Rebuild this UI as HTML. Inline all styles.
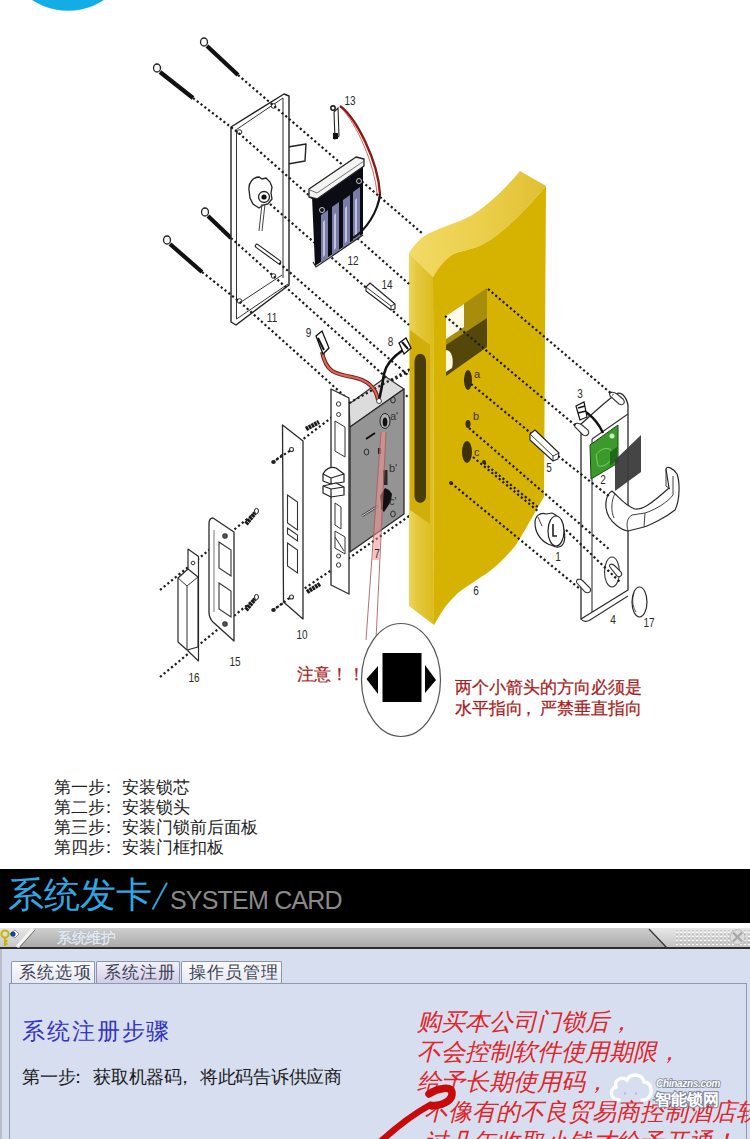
<!DOCTYPE html>
<html><head><meta charset="utf-8">
<style>
html,body{margin:0;padding:0;background:#fff;}
body{width:750px;height:1139px;position:relative;overflow:hidden;font-family:"Liberation Sans",sans-serif;}
#diag{position:absolute;left:0;top:0;}
.steps{position:absolute;left:54px;top:777.5px;font-size:17px;line-height:20.3px;color:#222;white-space:nowrap;}
.rnote{position:absolute;color:#a81c1c;-webkit-text-stroke:0.25px #a81c1c;font-size:16.5px;line-height:20.5px;white-space:nowrap;}
.banner{position:absolute;left:0;top:869px;width:750px;height:54px;background:#000;}
.banner .cn{position:absolute;left:8px;top:6px;font-size:36px;line-height:40px;color:#2ea8e4;white-space:nowrap;}
.banner .en{position:absolute;left:170px;top:16px;font-size:25px;line-height:30px;color:#8a8a8a;white-space:nowrap;letter-spacing:-0.8px;}
.win{position:absolute;left:0;top:927px;width:750px;height:212px;background:linear-gradient(#fff 0,#fff 1px,#d6def0 1px);}
.title{position:absolute;left:0;top:1px;width:750px;height:19px;background:linear-gradient(#cfcfcf,#bdbdbd 50%,#aaaaaa);border-bottom:2px solid #2e2e2e;}
.tl{position:absolute;left:0;top:0;width:36px;height:19px;background:linear-gradient(#e6e6e6,#c8c8c8);clip-path:polygon(0 0,34px 0,17px 19px,0 19px);}
.tr{position:absolute;left:648px;top:0;width:102px;height:19px;background:linear-gradient(#e8e8e8,#c4c4c4);clip-path:polygon(0 0,102px 0,102px 19px,19px 19px);}
.ticons{position:absolute;left:0;top:0;}
.ttext{position:absolute;left:57px;top:1px;font-size:15px;line-height:18px;font-weight:bold;color:#dfe6f2;text-shadow:0 0 1px #999;white-space:nowrap;letter-spacing:-0.5px;}
.lborder{position:absolute;left:0;top:22px;width:2px;height:190px;background:#b8bccb;}
.panel{position:absolute;left:9px;top:56px;width:736px;height:200px;border:1px solid #8d9ab2;border-width:1.5px 1px 0 1.5px;background:#d6def0;}
.tab{position:absolute;top:34px;height:21.5px;border:1px solid #8a96ac;border-bottom:none;border-radius:2px 2px 0 0;background:linear-gradient(#fbfbfd,#e6e8f2);font-size:17px;line-height:21px;color:#3c4454;text-align:center;white-space:nowrap;box-sizing:border-box;letter-spacing:1.2px;text-indent:5px;}
.tab.act{background:linear-gradient(#f3f0fa,#d2cbe8);}
.h1{position:absolute;left:22px;top:90px;font-size:23px;line-height:28px;color:#3535c0;white-space:nowrap;letter-spacing:1.9px;}
.p1{position:absolute;left:22px;top:138.5px;font-size:18px;line-height:22px;color:#1a1a1a;white-space:nowrap;letter-spacing:-0.22px;}
.red{position:absolute;left:417px;top:79.5px;font-size:24px;line-height:30px;color:#e0252a;font-style:italic;white-space:nowrap;}
</style></head>
<body>
<svg id="diag" width="750" height="770" viewBox="0 0 750 770">
  <circle cx="68" cy="-55.2" r="65.9" fill="#12ace6"/>
  <!-- ========== DOTTED LINES (behind door) ========== -->
  <g stroke="#1c1c1c" stroke-width="2.2" stroke-dasharray="2.2 2.6" fill="none">
    <!-- up-right strike lines -->
    <path d="M160,590 L257,511"/>
    <path d="M160,677 L257,597"/>
    <path d="M273,462 L352,402 L412,370"/>
    <path d="M273,610 L352,556 L412,514"/>
  </g>
  <!-- ========== DOOR ========== -->
  <defs>
    <linearGradient id="gTop" x1="0" y1="0" x2="1" y2="0">
      <stop offset="0" stop-color="#f2da66"/><stop offset="0.5" stop-color="#eccf4c"/><stop offset="1" stop-color="#e0c032"/>
    </linearGradient>
    <linearGradient id="gSide" x1="0" y1="0" x2="1" y2="0">
      <stop offset="0" stop-color="#eed45c"/><stop offset="0.3" stop-color="#e6c840"/><stop offset="1" stop-color="#dcbc1c"/>
    </linearGradient>
  </defs>
  <path d="M409,253 C416,242 424,235 432,232 C440,228 450,225 460,221 C478,214 500,195 520,171 L546,186 C512,226 490,243 474,248 C468,250 462,251 456,253 C448,256 440,265 433,277 Z" fill="url(#gTop)"/>
  <path d="M433,277 C440,265 448,256 456,253 C462,251 468,250 474,248 C490,243 512,226 546,186 L544,497 C530,520 520,540 515,546 C500,565 485,575 481,577 C470,585 460,590 455,596 C445,605 440,615 434,625 Z" fill="#d6b300"/>
  <path d="M409,253 L433,277 L434,625 L409,606 Z" fill="url(#gSide)"/>
  <!-- side mortise -->
  <path d="M410,330 L430,345 L430,524 L410,510 Z" fill="#d2ae0a"/>
  <path d="M414.5,362 C414.5,351 426,351 426,362 L426,496 C426,505 414.5,505 414.5,496 Z" fill="#4a3c08"/>
  <!-- window -->
  <path d="M446,316 L487,288 L487,347 L446,376 Z" fill="#a88c0c"/>
  <path d="M446,316 L464,304 L464,327 L446,339 Z" fill="#fffbe8"/>
  <path d="M446,345 L487,318 L487,347 L446,376 Z" fill="#55470a"/>
  <path d="M446,350 C452,350 454,360 452,368 L446,372 Z" fill="#fff8e0"/>
  <!-- holes -->
  <ellipse cx="468" cy="380" rx="4" ry="10" fill="#3d310a"/>
  <ellipse cx="468" cy="424" rx="2.5" ry="4" fill="#3d310a"/>
  <ellipse cx="467" cy="452" rx="5" ry="11" fill="#3d310a"/>
  <circle cx="451" cy="483" r="2" fill="#3d310a"/>
  <circle cx="484" cy="462" r="2" fill="#3d310a"/>
  <g font-family="Liberation Sans" font-size="11" fill="#3a2e08">
    <text x="474" y="378">a</text><text x="473" y="420">b</text><text x="474" y="456">c</text>
  </g>
  <!-- ========== SCREWS ========== -->
  <g stroke="#111" stroke-width="4.2" stroke-linecap="butt">
    <path d="M207,46 L238,75"/>
    <path d="M160,72 L193,98"/>
    <path d="M208,216 L231,238"/>
    <path d="M170,244 L202,272"/>
  </g>
  <g fill="#fff" stroke="#222" stroke-width="1.3">
    <ellipse cx="204" cy="42" rx="3.5" ry="4"/>
    <ellipse cx="157" cy="68" rx="3.5" ry="4"/>
    <ellipse cx="205" cy="212" rx="3.5" ry="4"/>
    <ellipse cx="167" cy="240" rx="3.5" ry="4"/>
  </g>
  <!-- ========== BACK PLATE 11 ========== -->
  <g fill="#fff" stroke="#222" stroke-width="1.4" stroke-linejoin="round">
    <path d="M288,147 L306,144 L305,161 L288,164 Z"/>
    <path d="M231,127 L284,94 L289,96 L289,285 L236,325 L231,322 Z"/>
  </g>
  <g fill="none" stroke="#333" stroke-width="1">
    <path d="M236.5,319 L236.5,129.5 L283,98 L283,278"/>
    <path d="M241,302 L282,275"/>
    <path d="M236.5,319 L288,284"/>
  </g>
  <g fill="#fff" stroke="#333" stroke-width="1">
    <circle cx="239.5" cy="132" r="2.3"/><circle cx="273.5" cy="106" r="2.3"/>
    <circle cx="273.5" cy="276" r="2.3"/><circle cx="239.5" cy="301" r="2.3"/>
  </g>
  <g stroke="#222" fill="#fff" stroke-width="1.3">
    <path d="M249,190 C248,182 254,177 259,177 L262,179 L266,178 L270,182 L272,187 L271,193 L272,199 L268,204 L263,205 L259,208 L253,204 L250,198 Z"/>
    <circle cx="264" cy="197" r="5.5"/>
  </g>
  <circle cx="264" cy="197" r="2.6" fill="#111"/>
  <path d="M262,204 L259,231 M265,204 L262,231" stroke="#444" stroke-width="1" fill="none"/>
  <path d="M257,246 L279,262" stroke="#222" stroke-width="4.5" stroke-linecap="round"/>
  <path d="M257,246 L279,262" stroke="#fff" stroke-width="2.2" stroke-linecap="round"/>
  <!-- lines over plate -->
  <g stroke="#1c1c1c" stroke-width="2.2" stroke-dasharray="2.2 2.6" fill="none">
    <path d="M238,75 L423,234"/>
    <path d="M193,98 L238.7,133 L409,284"/>
    <path d="M270,204 L409,325"/>
    <path d="M279,263 L409,376"/>
    <path d="M231,238 L273.4,276 L409,398"/>
    <path d="M202,272 L238.7,301 L350,401"/>
  </g>
  <!-- ========== BATTERY 12 ========== -->
  <path d="M312,196 L363,163 L363,234 L315,266 Z" fill="#0c0c14"/>
  <g fill="#7a7ca8">
    <path d="M321,215 L328,210 L328,258 L321,263 Z"/>
    <path d="M332,207 L339,202 L339,251 L332,256 Z"/>
    <path d="M343,200 L350,195 L350,244 L343,249 Z"/>
    <path d="M353,192 L360,187 L360,237 L353,242 Z"/>
  </g>
  <g fill="#d8daf0" opacity="0.75">
    <path d="M323,222 L325,220 L325,255 L323,257 Z"/>
    <path d="M334,215 L336,213 L336,248 L334,250 Z"/>
    <path d="M345,208 L347,206 L347,241 L345,243 Z"/>
    <path d="M355,200 L357,198 L357,234 L355,236 Z"/>
  </g>
  <path d="M313,262 L316,267 L363,235" stroke="#222" stroke-width="1.2" fill="none"/>
  <path d="M309,189 L356,157 L364,159 L364,166 L317,199 L309,197 Z" fill="#f4f4f4" stroke="#222" stroke-width="1.3" stroke-linejoin="round"/>
  <path d="M310,190 L317,193 L364,161" stroke="#555" stroke-width="0.8" fill="none"/>
  <circle cx="359" cy="181" r="2.5" fill="none" stroke="#ccc" stroke-width="1"/>
  <circle cx="322" cy="210" r="2.5" fill="none" stroke="#ccc" stroke-width="1"/>
  <!-- wire 13 -->
  <path d="M340,106 C356,118 378,160 380,194" stroke="#8a1a14" stroke-width="2.4" fill="none"/>
  <path d="M341,108 C356,122 375,165 377,194" stroke="#e04848" stroke-width="0.9" fill="none"/>
  <path d="M380,194 C378,212 366,230 353,238" stroke="#151515" stroke-width="2.2" fill="none"/>
  <path d="M334,112 L338,108 L339,136 L335,139 Z" fill="#fff" stroke="#222" stroke-width="1.1"/>
  <rect x="333" y="133" width="5" height="6" fill="#111"/>
  <circle cx="333" cy="108" r="2.2" fill="none" stroke="#111" stroke-width="1.4"/>
  <!-- pin 14 -->
  <path d="M366,287 L370,283 L395,304 L395,309 L391,310 L366,291 Z" fill="#fff" stroke="#222" stroke-width="1.1" stroke-linejoin="round"/>
  <path d="M366,287 L391,306 L391,310 M391,306 L395,304" stroke="#222" stroke-width="0.9" fill="none"/>
  <!-- ========== STRIKE PLATE 10 ========== -->
  <path d="M282.5,425 L303,441 L303,619 L283.5,602 Z" fill="#fff" stroke="#2a2a2a" stroke-width="1.3" stroke-linejoin="round"/>
  <g fill="#fff" stroke="#333" stroke-width="1.1">
    <path d="M287.5,495 L297.5,502 L297.5,530 L287.5,523 Z"/>
    <path d="M287.5,528 L297.5,535 L297.5,541 L287.5,534 Z"/>
    <path d="M287.5,543 L297.5,550 L297.5,573 L287.5,566 Z"/>
    <circle cx="291.5" cy="449.5" r="2"/><circle cx="291.5" cy="597" r="2"/>
  </g>
  <ellipse cx="273.5" cy="462" rx="2.3" ry="2" fill="#222"/>
  <ellipse cx="273.5" cy="610" rx="2.3" ry="2" fill="#222"/>
  <g stroke="#1c1c1c" stroke-width="2.2" stroke-dasharray="2.2 2.6" fill="none">
    <path d="M276,460 L291,450"/><path d="M276,608 L291,597"/>
  </g>
  <!-- ========== STRIKE 15 ========== -->
  <path d="M213,518 L234,532 L234,641 L213,622 C209,618 209,614 209,612 L209,524 C209,520 211,518 213,518 Z" fill="#fff" stroke="#2a2a2a" stroke-width="1.3" stroke-linejoin="round"/>
  <path d="M214,530 L214,612" stroke="#555" stroke-width="0.8"/>
  <g fill="#fff" stroke="#333" stroke-width="1.1">
    <path d="M219,542 L231,550 L231,576 L219,568 Z"/>
    <path d="M219,583 L231,591 L231,617 L219,609 Z"/>
    <circle cx="225" cy="536" r="2.2" fill="#555"/><circle cx="225" cy="624" r="2.2" fill="#555"/>
  </g>
  <g stroke="#1a1a1a" stroke-width="4.4" stroke-dasharray="2.6 0.6" stroke-linecap="butt">
    <path d="M246,524 L255,513"/><path d="M246,610 L255,599"/>
  </g>
  <g fill="#fff" stroke="#222" stroke-width="1">
    <ellipse cx="256.5" cy="511" rx="2" ry="2.6"/><ellipse cx="256.5" cy="597" rx="2" ry="2.6"/>
  </g>
  <!-- ========== STRIKE BOX 16 ========== -->
  <path d="M188,549 L198.5,556.5 L198.5,661 L188,651 Z" fill="#fff" stroke="#2a2a2a" stroke-width="1.2" stroke-linejoin="round"/>
  <circle cx="193" cy="563" r="1.8" fill="#fff" stroke="#333" stroke-width="1"/>
  <path d="M178,578 L188,569 L198,577 L198,647 L187,650 L178,642 Z" fill="#fff" stroke="#2a2a2a" stroke-width="1.2" stroke-linejoin="round"/>
  <path d="M178,578 L187,586 L198,577 M187,586 L187,650" stroke="#333" stroke-width="1" fill="none"/>
  <!-- ========== LOCK BODY 7 ========== -->
  <path d="M349,404 L386,377 L404,389 L350,427 Z" fill="#dcdcdc" stroke="#333" stroke-width="1.2" stroke-linejoin="round"/>
  <path d="M350,427 L404,389 L404,514 L350,552 Z" fill="#949494" stroke="#2a2a2a" stroke-width="1.3" stroke-linejoin="round"/>
  <!-- faceplate -->
  <path d="M331,389 L349,398 L349,594 L331,585 Z" fill="#fff" stroke="#2a2a2a" stroke-width="1.3" stroke-linejoin="round"/>
  <g fill="#fff" stroke="#333" stroke-width="1">
    <path d="M335,421 L345,427 L345,457 L335,451 Z"/>
    <path d="M335,503 L341,507 L341,529 L335,525 Z"/>
    <path d="M335,531 L345,537 L345,554 L335,548 Z"/>
    <path d="M335,537 L344,551"/>
    <circle cx="338.6" cy="404" r="2.2"/><circle cx="338.6" cy="414.5" r="2"/>
    <circle cx="338.6" cy="556" r="2"/><circle cx="338.6" cy="565" r="2.2"/>
  </g>
  <g fill="#fff" stroke="#222" stroke-width="1.2" stroke-linejoin="round">
    <path d="M323,474 C325,469 331,466 336,468 L344,474 L344,482 L331,484 L323,481 Z"/>
    <path d="M323,474 L331,478 L344,474 M331,478 L331,484"/>
    <path d="M323,486 L336,483 L344,487 L344,495 L331,497 L323,493 Z"/>
    <path d="M331,489 L331,497 M323,486 L331,489 L344,487"/>
  </g>
  <!-- lock screws -->
  <g stroke="#1a1a1a" stroke-width="4.4" stroke-dasharray="2.6 0.6">
    <path d="M306,429 L319,422"/><path d="M307,592 L320,584"/>
  </g>
  <!-- front face details -->
  <ellipse cx="385" cy="421" rx="5" ry="7.5" fill="#b0b0b0" stroke="#222" stroke-width="1"/>
  <ellipse cx="385" cy="422" rx="2.3" ry="4.5" fill="#111"/>
  <path d="M366,439 L375,433" stroke="#111" stroke-width="2"/>
  <ellipse cx="366.5" cy="452" rx="2.3" ry="3" fill="none" stroke="#222" stroke-width="0.9"/>
  <ellipse cx="393" cy="400" rx="2.3" ry="3" fill="none" stroke="#222" stroke-width="0.9"/>
  <ellipse cx="393" cy="514" rx="2.3" ry="3" fill="none" stroke="#222" stroke-width="0.9"/>
  <rect x="378" y="448" width="3" height="6" fill="#222"/>
  <rect x="383" y="470" width="4.5" height="15" fill="#2a2a2a"/>
  <path d="M385,488 l4,2 l3,4 l-1,7 l-3,5 l-4,6 l-3,-3 l0,-6 l-1,-7 z" fill="#111"/>
  <path d="M362,516 L378,506" stroke="#333" stroke-width="2.4"/>
  <path d="M362,516 L378,506" stroke="#ddd" stroke-width="1"/>
  <g font-family="Liberation Sans" font-size="11" fill="#333">
    <text x="390" y="420">a'</text><text x="389" y="472">b'</text><text x="389" y="505">c'</text>
  </g>
  <!-- pink beam -->
  <path d="M381,432 L386,432 L379,560 L372.5,560 Z" fill="#f09090" opacity="0.55"/>
  <path d="M381,432 L366,640" stroke="#b06060" stroke-width="0.9" fill="none"/>
  <path d="M386,432 L376,640" stroke="#b06060" stroke-width="0.9" fill="none"/>
  <path d="M349,403 L412,368" stroke="#1c1c1c" stroke-width="2.2" stroke-dasharray="2.2 2.6" fill="none"/>
  <!-- wire 9 -->
  <path d="M322,352 C326,372 335,374 352,377 C368,380 376,388 378,400" stroke="#7a1a10" stroke-width="4" fill="none"/>
  <path d="M322,352 C326,372 335,374 352,377 C368,380 376,388 378,400" stroke="#d86a60" stroke-width="2" fill="none"/>
  <path d="M316,336 L322,331 L329,348 L323,354 Z" fill="#fff" stroke="#111" stroke-width="1.3"/>
  <path d="M318,338 L324,350" stroke="#111" stroke-width="2"/>
  <!-- wire 8 -->
  <path d="M403,350 C394,356 386,364 384,374 C382,386 381,392 379,400" stroke="#111" stroke-width="2.6" fill="none"/>
  <path d="M399,343 L406,338 L411,348 L404,354 Z" fill="#fff" stroke="#111" stroke-width="1.3"/>
  <path d="M402,342 L408,349" stroke="#111" stroke-width="2"/>
  <circle cx="379" cy="401" r="2.5" fill="#fff" stroke="#222" stroke-width="0.8"/>
  <!-- ========== FRONT PLATE 4 ========== -->
  <path d="M581,424 C590,416 605,402 616,394 C621,391 626,396 628,405 L628,590 L581,619 Z" fill="#fff" stroke="#2a2a2a" stroke-width="1.3" stroke-linejoin="round"/>
  <path d="M592,439 L628,414" stroke="#333" stroke-width="1.1" fill="none"/>
  <path d="M592,439 L592,612" stroke="#333" stroke-width="1.1" fill="none"/>
  <path d="M581,619 C583,622 587,622 590,620 L628,596" stroke="#333" stroke-width="1.1" fill="none"/>
  <g fill="#fff" stroke="#333" stroke-width="1.1">
    <path d="M610,396 C608,392 613,391 617,394 L623,399 C626,403 623,406 619,404 Z"/>
    <path d="M575,427 C573,423 578,422 582,425 L588,430 C590,434 587,437 583,435 Z"/>
    <ellipse cx="612" cy="572" rx="7.5" ry="15"/>
    <path d="M610,567 C608,564 612,563 615,566 L621,572 C623,575 620,578 617,576 Z"/>
    <path d="M577,583 C575,579 580,578 583,581 L590,588 C592,591 589,594 585,592 Z"/>
  </g>
  <!-- PCB -->
  <path d="M590,445 L618,425 L618,463 L591,479 Z" fill="#3c9a2c" stroke="#1d4a14" stroke-width="1"/>
  <path d="M596,455 C600,448 610,446 612,452 C614,460 605,468 598,466 Z" fill="none" stroke="#8ed47a" stroke-width="0.8"/>
  <circle cx="612" cy="436" r="2.5" fill="#c8f0c0"/>
  <path d="M610,452 L617,447 L617,460 L610,466 Z" fill="#1f6a16"/>
  <!-- card -->
  <path d="M615,460 L641,435 L641,472 L615,491 Z" fill="#3b3b3b" opacity="0.95"/>
  <!-- wire 3 -->
  <path d="M586,412 C594,418 600,426 603,433" stroke="#111" stroke-width="2.4" fill="none"/>
  <path d="M576,406 L584,402 L587,417 L580,420 Z" fill="#fff" stroke="#111" stroke-width="1.2"/>
  <path d="M578,408 L585,406 M578,413 L586,411" stroke="#111" stroke-width="1.5"/>
  <!-- handle -->
  <path d="M612,491 C618,496 625,506 635,509 C642,510 650,505 669,488 L666,469 C667,465 674,469 677,474 C680,482 680,500 675,510 C665,518 650,525 644,527 L628,531 C620,530 612,522 609,517 C604,508 605,495 612,491 Z" fill="#fff" stroke="#2a2a2a" stroke-width="1.2" stroke-linejoin="round"/>
  <path d="M615,494 C611,500 611,512 614,518" stroke="#2a2a2a" stroke-width="0.9" fill="none"/>
  <path d="M628,531 C626,524 627,518 632,515 L645,513 L644,527" stroke="#2a2a2a" stroke-width="0.9" fill="none"/>
  <path d="M645,513 C655,510 668,502 673,495 L673,476" stroke="#2a2a2a" stroke-width="0.9" fill="none"/>
  <path d="M666,469 L666,486 L670,489" stroke="#2a2a2a" stroke-width="0.9" fill="none"/>
  <!-- cap 17 -->
  <ellipse cx="639.5" cy="602" rx="7.5" ry="15" fill="#fff" stroke="#2a2a2a" stroke-width="1.2"/>
  <path d="M634,593 C632,598 632,606 636,612" stroke="#2a2a2a" stroke-width="0.8" fill="none"/>
  <!-- ========== DOTTED LINES (on / right of door) ========== -->
  <g stroke="#1c1c1c" stroke-width="2.2" stroke-dasharray="2.2 2.6" fill="none">
    <path d="M488,289 L613,395"/>
    <path d="M445,316 L576,426"/>
    <path d="M471,384 L532,434"/>
    <path d="M558,456 L610,497"/>
    <path d="M469,428 L610,550"/>
    <path d="M473,457 L539,512"/>
    <path d="M484,463 L539,508"/>
    <path d="M566,530 L620,582"/>
    <path d="M451,483 L580,589"/>
  </g>
  <!-- ========== SPINDLE 5 ========== -->
  <path d="M530,434 L535,430 L559,453 L558,459 L553,461 L530,440 Z" fill="#fff" stroke="#222" stroke-width="1.1" stroke-linejoin="round"/>
  <path d="M530,434 L553,456 L553,461 M553,456 L559,453" stroke="#222" stroke-width="0.9" fill="none"/>
  <!-- ========== CYLINDER 1 ========== -->
  <path d="M546,514 C540,512 535,516 535,523 C535,532 540,540 548,544 L556,547 C564,548 566,540 564,530 C562,520 556,514 552,513 Z" fill="#fff" stroke="#222" stroke-width="1.2"/>
  <ellipse cx="556" cy="531" rx="8" ry="15" fill="#fff" stroke="#222" stroke-width="1.2"/>
  <path d="M553,524 L553,536 L557,536" stroke="#222" stroke-width="1.6" fill="none"/>
  <path d="M538,517 L542,526" stroke="#444" stroke-width="1" fill="none"/>
  <g font-family="Liberation Sans" font-size="12.5" fill="#2a2a2a" text-anchor="middle" transform="scale(0.8,1)">
    <text x="437.5" y="104.6">13</text>
    <text x="441.2" y="264.6">12</text>
    <text x="483.8" y="289.1">14</text>
    <text x="340.0" y="322.1">11</text>
    <text x="385.6" y="337.1">9</text>
    <text x="488.1" y="346.1">8</text>
    <text x="471.2" y="557.6">7</text>
    <text x="377.5" y="638.6">10</text>
    <text x="293.8" y="665.6">15</text>
    <text x="242.5" y="681.6">16</text>
    <text x="595.0" y="594.6">6</text>
    <text x="697.5" y="561.1">1</text>
    <text x="686.2" y="472.1">5</text>
    <text x="725.0" y="397.6">3</text>
    <text x="753.8" y="483.6">2</text>
    <text x="766.2" y="623.6">4</text>
    <text x="811.2" y="626.6">17</text>
  </g>
  <!-- magnifier -->
  <ellipse cx="401" cy="680" rx="39.5" ry="56.5" fill="#fff" stroke="#555" stroke-width="1.2"/>
  <rect x="382.5" y="653" width="39" height="49" fill="#000"/>
  <path d="M366.5,679 L378,666 L378,694 Z" fill="#000"/>
  <path d="M425,665 L436,680 L425,693 Z" fill="#000"/>
</svg>
<div class="rnote" style="left:297px;top:664px;">注意！！</div>
<div class="rnote" style="left:455px;top:677px;">两个小箭头的方向必须是<br>水平指向<span style="position:relative;left:-3px">，</span>严禁垂直指向</div>
<div class="steps">第一步<span style="position:relative;left:-5px">：</span>安装锁芯<br>第二步<span style="position:relative;left:-5px">：</span>安装锁头<br>第三步<span style="position:relative;left:-5px">：</span>安装门锁前后面板<br>第四步<span style="position:relative;left:-5px">：</span>安装门框扣板</div>
<div class="banner"><div class="cn">系统发卡</div><svg style="position:absolute;left:0;top:0" width="200" height="54"><path d="M152.5,40.5 L167,13.8" stroke="#2ea8e4" stroke-width="1.8"/></svg><div class="en">SYSTEM CARD</div></div>
<div class="win">
  <div class="title">
    <div class="tl"></div>
    <div class="tr"></div>
    <svg class="ticons" width="750" height="22" viewBox="0 0 750 22">
      <path d="M17,19 L33,1" stroke="#f4f4f4" stroke-width="3"/>
      <path d="M19,20 L35,2" stroke="#777" stroke-width="1"/>
      <path d="M649,1 L667,20" stroke="#333" stroke-width="1.2"/>
      <path d="M10,6 L15,2 L19,6 L15,10 Z" fill="#fff" stroke="#555" stroke-width="0.6"/>
      <circle cx="13" cy="6" r="2.6" fill="#1a3f9a"/>
      <circle cx="5" cy="6" r="3.6" fill="none" stroke="#c8b400" stroke-width="2"/>
      <path d="M5,9 L5,18 M5,13 L7.5,13 M5,16 L7.5,16" stroke="#c8b400" stroke-width="2"/>
      <defs>
        <pattern id="dotp" x="0" y="0" width="4" height="4" patternUnits="userSpaceOnUse">
          <rect x="0" y="0" width="2" height="1.6" fill="#fafafa"/>
          <rect x="0" y="1.6" width="2" height="0.8" fill="#9a9a9a"/>
        </pattern>
      </defs>
      <rect x="675" y="2" width="75" height="16" fill="url(#dotp)"/>
      <circle cx="737.5" cy="9" r="7.5" fill="#dcdcdc" stroke="#bbb" stroke-width="1"/>
      <path d="M733,4.5 L742,13.5 M742,4.5 L733,13.5" stroke="#a8a8a8" stroke-width="2.4"/>
    </svg>
    <div class="ttext">系统维护</div>
  </div>
  <div class="lborder"></div>
  <div class="panel"></div>
  <div class="tab" style="left:11px;width:84px;">系统选项</div>
  <div class="tab act" style="left:96px;width:83.5px;">系统注册</div>
  <div class="tab" style="left:181px;width:101px;">操作员管理</div>
  <div class="h1">系统注册步骤</div>
  <div class="p1">第一步<span style="position:relative;left:-6px">：</span>获取机器码<span style="position:relative;left:-6px">，</span>将此码告诉供应商</div>
  <div class="red">购买本公司门锁后，<br>不会控制软件使用期限，<br>给予长期使用码，<br>&nbsp;不像有的不良贸易商控制酒店软件<br>&nbsp;过几年收取小钱才给予开通！</div>
  <svg style="position:absolute;left:0;top:0" width="750" height="212" viewBox="0 927 750 212">
    <path d="M619,1100 C610,1100 609,1089 616,1087 C614,1080 621,1076 627,1080 C630,1073 642,1073 644,1082 C652,1082 653,1094 648,1098 C646,1100 645,1100 642,1100" fill="none" stroke="#fff" stroke-width="3.4" stroke-linecap="round"/>
    <path d="M625,1092 L625,1095 M636,1092 L636,1095" stroke="#a8aec0" stroke-width="1"/>
    <text x="656" y="1087" font-family="Liberation Sans" font-size="10" font-weight="bold" font-style="italic" fill="#fff" stroke="#7c8294" stroke-width="1.6" paint-order="stroke" letter-spacing="-0.3">Chinazns.com</text>
    <text x="655" y="1105" font-family="Liberation Sans" font-size="16" font-weight="bold" fill="#fff" stroke="#7c8294" stroke-width="2" paint-order="stroke" letter-spacing="0">智能锁网</text>
    <path d="M379,1143 C392,1131 408,1117 430,1105" stroke="#c80a0a" stroke-width="6.5" stroke-linecap="round" fill="none"/>
    <path d="M429,1094 C438,1088 451,1086 452,1092 C453,1099 446,1105 432,1106" stroke="#c80a0a" stroke-width="7.5" stroke-linecap="round" fill="none"/>
  </svg>
</div>
</body></html>
